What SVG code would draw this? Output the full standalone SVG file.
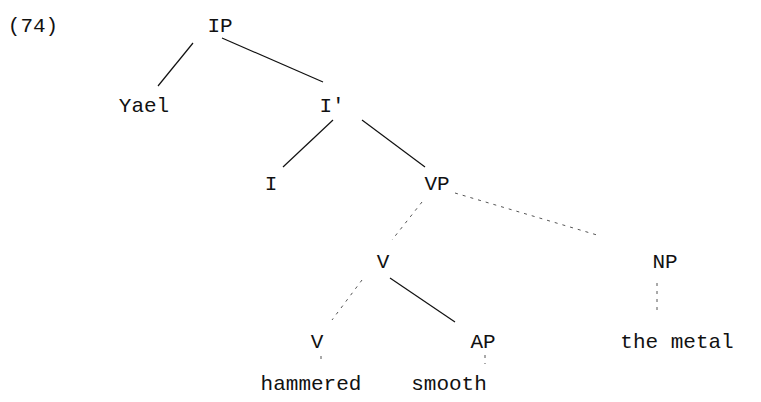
<svg xmlns="http://www.w3.org/2000/svg" width="761" height="402" viewBox="0 0 761 402">
<style>
text{font-family:"Liberation Mono","DejaVu Sans Mono",monospace;font-size:21px;fill:#111;text-anchor:middle}
.e{stroke:#111;stroke-width:1.2;fill:none}
.f{stroke:#555;stroke-width:1;fill:none;stroke-dasharray:3 5}
</style>
<rect width="761" height="402" fill="#fff"/>
<text x="33" y="32">(74)</text>
<g id="IP"><text x="220" y="32">IP</text></g>
<g id="Yael"><text x="144" y="112">Yael</text></g>
<g id="Ibar"><text x="332" y="112">I'</text></g>
<g id="I"><text x="271" y="190">I</text></g>
<g id="VP"><text x="437" y="190">VP</text></g>
<g id="V1"><text x="383" y="268">V</text></g>
<g id="NP"><text x="665" y="268">NP</text></g>
<g id="V2"><text x="317" y="348">V</text></g>
<g id="AP"><text x="483" y="348">AP</text></g>
<g id="hammered"><text x="311" y="390">hammered</text></g>
<g id="smooth"><text x="449" y="390">smooth</text></g>
<g id="themetal"><text x="677" y="348">the metal</text></g>
<g id="connectors">
<line class="e" x1="193" y1="43" x2="158" y2="86"/>
<line class="e" x1="222" y1="38" x2="323" y2="82"/>
<line class="e" x1="333" y1="120" x2="283" y2="167"/>
<line class="e" x1="362" y1="120" x2="425" y2="167"/>
<line class="f" x1="422" y1="202" x2="392" y2="240"/>
<line class="f" x1="455" y1="193" x2="597" y2="235"/>
<line class="f" x1="362" y1="280" x2="332" y2="320"/>
<line class="e" x1="390" y1="278" x2="455" y2="322"/>
<line class="f" x1="321" y1="356" x2="321" y2="362"/>
<line class="f" x1="485" y1="355" x2="485" y2="364"/>
<line class="f" x1="657" y1="283" x2="657" y2="313"/>
</g>
</svg>
